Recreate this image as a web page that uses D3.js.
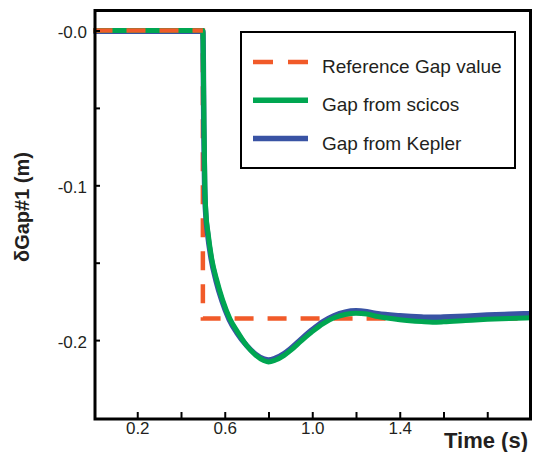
<!DOCTYPE html>
<html>
<head>
<meta charset="utf-8">
<script src="https://cdn.jsdelivr.net/npm/d3@7"></script>
<style>
  body { margin: 0; background: #fff; }
  text { font-family: "Liberation Sans", Arial, sans-serif; fill: #231f20; }
</style>
</head>
<body>
<div id="chart"></div>
<script>
const width = 537,
  height = 452,
  frame = { left: 95, right: 530.5, top: 10.5, bottom: 419 };

// series: [time (s), gap (m)]
const referenceGap = [[0, 0], [0.5, 0], [0.5, -0.186], [2.0, -0.186]];

const scicosGap = [
  [0, 0], [0.5, 0], [0.502, -0.02], [0.505, -0.06], [0.509, -0.1], [0.515, -0.12],
  [0.523, -0.13], [0.54, -0.147], [0.563, -0.161], [0.59, -0.174], [0.623, -0.186],
  [0.66, -0.195], [0.7, -0.2035], [0.74, -0.2095], [0.78, -0.2133], [0.8, -0.2141],
  [0.83, -0.213], [0.87, -0.21], [0.9, -0.2068], [0.95, -0.2005], [1.0, -0.1945],
  [1.05, -0.1893], [1.1, -0.1856], [1.15, -0.1835], [1.2, -0.1826], [1.25, -0.1832],
  [1.3, -0.1848], [1.4, -0.1868], [1.5, -0.188], [1.55, -0.1884], [1.6, -0.1882],
  [1.7, -0.1874], [1.8, -0.1866], [1.9, -0.186], [2.0, -0.1856]
];

const keplerGap = [
  [0, 0], [0.5, 0], [0.502, -0.02], [0.504, -0.06], [0.508, -0.1], [0.514, -0.12],
  [0.521, -0.13], [0.538, -0.147], [0.56, -0.161], [0.587, -0.174], [0.62, -0.186],
  [0.657, -0.195], [0.7, -0.203], [0.74, -0.2085], [0.78, -0.2118], [0.8, -0.2124],
  [0.83, -0.2113], [0.87, -0.2083], [0.9, -0.2051], [0.95, -0.1988], [1.0, -0.1928],
  [1.05, -0.1875], [1.1, -0.1837], [1.15, -0.1814], [1.2, -0.1806], [1.25, -0.1812],
  [1.3, -0.1825], [1.4, -0.1838], [1.5, -0.1846], [1.55, -0.1848], [1.6, -0.1846],
  [1.7, -0.184], [1.8, -0.1833], [1.9, -0.1828], [2.0, -0.1824]
];

const xTicks = [0.2, 0.4, 0.6, 0.8, 1.0, 1.2, 1.4, 1.6, 1.8];
const xTickLabels = ["0.2", "", "0.6", "", "1.0", "", "1.4", "", ""];
const yTicks = [0, -0.05, -0.1, -0.15, -0.2];
const yTickLabels = ["-0.0", "", "-0.1", "", "-0.2"];

const legendItems = ["Reference Gap value", "Gap from scicos", "Gap from Kepler"];
const colors = ["#f15a29", "#00a651", "#3953a4"];

const svg = d3
  .select("#chart")
  .append("svg")
  .attr("width", width)
  .attr("height", height);

const xScale = d3.scaleLinear().domain([0, 2]).range([93.5, 531]);
const yScale = d3.scaleLinear().domain([-0.25, 0]).range([417.5, 30.5]);

const line = d3
  .line()
  .x(d => xScale(d[0]))
  .y(d => yScale(d[1]));

const smooth = d3
  .line()
  .x(d => xScale(d[0]))
  .y(d => yScale(d[1]))
  .curve(d3.curveMonotoneX);

// reference under the curves
svg
  .append("path")
  .attr("d", line(referenceGap))
  .attr("fill", "none")
  .attr("stroke", colors[0])
  .attr("stroke-width", 4.5)
  .attr("stroke-dasharray", "19,14");

svg
  .append("path")
  .attr("d", smooth(keplerGap))
  .attr("fill", "none")
  .attr("stroke", colors[2])
  .attr("stroke-width", 5.5)
  .attr("transform", "translate(0,0.8)");

svg
  .append("path")
  .attr("d", smooth(scicosGap))
  .attr("fill", "none")
  .attr("stroke", colors[1])
  .attr("stroke-width", 5);

// flat zero part of the reference shows on top in the original
svg
  .append("path")
  .attr("d", line(referenceGap.slice(0, 2)))
  .attr("fill", "none")
  .attr("stroke", colors[0])
  .attr("stroke-width", 4.5)
  .attr("stroke-dasharray", "19,14");

// axes, ticks pointing inward
const xAxis = svg
  .append("g")
  .attr("transform", `translate(0,${frame.bottom})`)
  .call(
    d3.axisBottom(xScale)
      .tickValues(xTicks)
      .tickSize(-7)
      .tickPadding(3)
      .tickFormat((d, i) => xTickLabels[i])
  );

const yAxis = svg
  .append("g")
  .attr("transform", `translate(${frame.left},0)`)
  .call(
    d3.axisLeft(yScale)
      .tickValues(yTicks)
      .tickSize(-5)
      .tickPadding(8)
      .tickFormat((d, i) => yTickLabels[i])
  );

[xAxis, yAxis].forEach(g => {
  g.select(".domain").remove();
  g.selectAll(".tick line").attr("stroke", "#000").attr("stroke-width", 2);
  g.selectAll(".tick text")
    .attr("font-size", 17)
    .attr("font-family", "Liberation Sans, Arial, sans-serif")
    .attr("fill", "#231f20");
});
yAxis.selectAll(".tick text").attr("dy", "0.42em");

svg
  .append("rect")
  .attr("x", frame.left)
  .attr("y", frame.top)
  .attr("width", frame.right - frame.left)
  .attr("height", frame.bottom - frame.top)
  .attr("fill", "none")
  .attr("stroke", "#000")
  .attr("stroke-width", 3);

svg
  .append("text")
  .attr("x", 528)
  .attr("y", 448)
  .attr("text-anchor", "end")
  .attr("font-size", 22)
  .attr("font-weight", "bold")
  .text("Time (s)");

svg
  .append("text")
  .attr("transform", "translate(29,207) rotate(-90)")
  .attr("text-anchor", "middle")
  .attr("font-size", 20)
  .attr("font-weight", "bold")
  .text("δGap#1 (m)");

// legend
const legend = svg.append("g");

legend
  .append("rect")
  .attr("x", 241)
  .attr("y", 32)
  .attr("width", 274)
  .attr("height", 136)
  .attr("fill", "#fff")
  .attr("stroke", "#000")
  .attr("stroke-width", 2);

const rows = legend
  .selectAll("g.row")
  .data(legendItems)
  .join("g")
  .attr("class", "row")
  .attr("transform", (d, i) => `translate(253,${62 + i * 38.3})`);

rows
  .append("line")
  .attr("x1", 0)
  .attr("x2", 55)
  .attr("stroke", (d, i) => colors[i])
  .attr("stroke-width", (d, i) => (i === 0 ? 4.5 : 5.5))
  .attr("stroke-dasharray", (d, i) => (i === 0 ? "20,15" : null));

rows
  .append("text")
  .attr("x", 69)
  .attr("y", 11)
  .attr("font-size", 19)
  .text(d => d);
</script>
</body>
</html>
